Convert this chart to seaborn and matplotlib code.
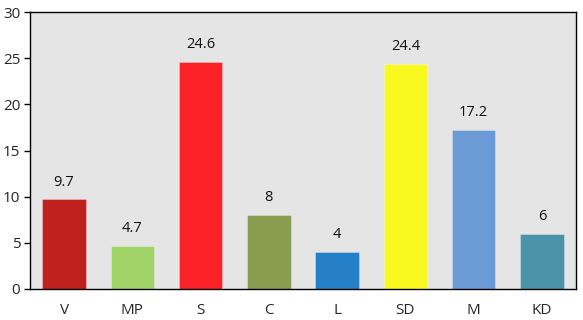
import matplotlib
matplotlib.use("Agg")
import matplotlib.pyplot as plt
import seaborn as sns
import pandas as pd

parties = ["V", "MP", "S", "C", "L", "SD", "M", "KD"]
values = [9.7, 4.7, 24.6, 8, 4, 24.4, 17.2, 6]
labels = ["9.7", "4.7", "24.6", "8", "4", "24.4", "17.2", "6"]
colors = ["#c0211f", "#a0d468", "#fc2127", "#889c50", "#2580c8", "#f9f91f", "#6a9bd6", "#4a93a8"]

sns.set_style("white")
plt.rcParams["font.family"] = ["Open Sans", "DejaVu Sans"]

df = pd.DataFrame({"party": parties, "value": values})
fig = plt.figure(figsize=(5.83, 3.2), dpi=100)
ax = fig.add_axes([30/583, 1 - 289/320, (576-30)/583, (289-12)/320])
ax.set_facecolor("#e5e5e5")
sns.barplot(data=df, x="party", y="value", hue="party", palette=colors, legend=False,
            width=0.64, ax=ax, edgecolor="#ffffff", linewidth=0.6, saturation=1)
for p in ax.patches:
    p.set_edgecolor((1, 1, 1, 0.35))
for i, (v, t) in enumerate(zip(values, labels)):
    ax.annotate(t, (i, v), xytext=(0, 7), textcoords="offset points", ha="center", va="bottom",
                fontsize=10.5, color="#111111")
ax.set_ylim(0, 30)
ax.set_yticks([0, 5, 10, 15, 20, 25, 30])
ax.set_xlim(-0.5, 7.5)
ax.set_xlabel("")
ax.set_ylabel("")
for s in ax.spines.values():
    s.set_visible(True)
    s.set_color("black")
    s.set_linewidth(1)
ax.tick_params(axis="y", length=4, width=1, color="black", labelsize=11, pad=3, left=True)
ax.tick_params(axis="x", length=0, labelsize=11, pad=10)
fig.savefig("out.png", dpi=100)
